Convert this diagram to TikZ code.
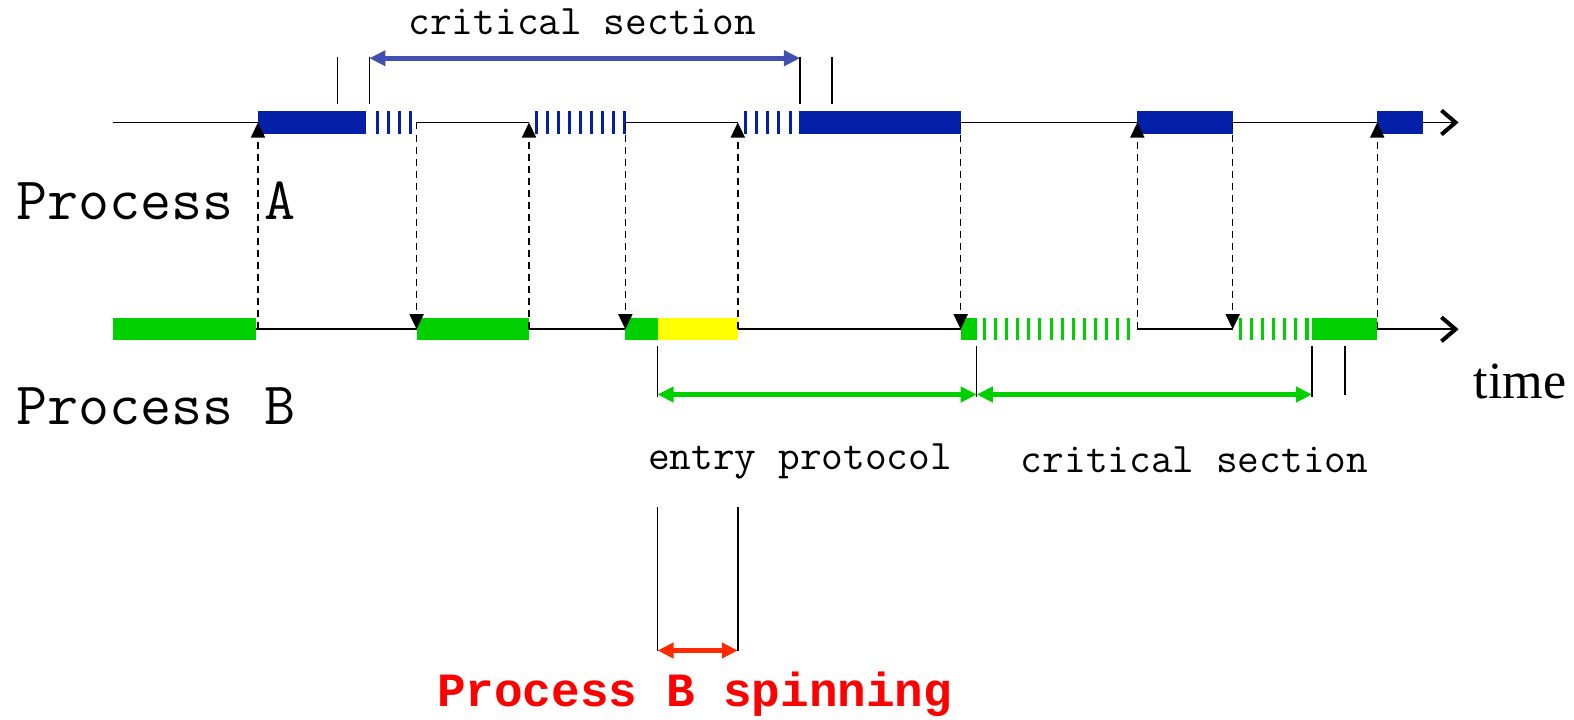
\documentclass[tikz,border=0pt]{standalone}
\usepackage{fontspec}
\setmainfont{Liberation Serif}
\newfontfamily\courbf{Liberation Mono}
\usepackage{tikz}
\usetikzlibrary{arrows.meta}
\definecolor{procA}{HTML}{0520A8}
\definecolor{procB}{HTML}{00D000}
\definecolor{spin}{HTML}{FFFF00}
\definecolor{dimA}{HTML}{4150AE}
\definecolor{alarm}{HTML}{FF2A00}
\begin{document}
\begin{tikzpicture}[x=1pt,y=-1pt]
    \tikzset{ax/.style={line width=1.8pt,-{Straight Barb[length=14pt,width=24pt,line width=4pt]}}, sig/.style={line width=1.5pt,dash pattern=on 7pt off 5pt,-{Triangle[length=15pt,width=14pt]}}, dim/.style={line width=5pt,{Triangle[length=16pt,width=15pt]}-{Triangle[length=16pt,width=15pt]}}, tk/.style={line width=1.5pt}, lbl/.style={font=\fontsize{42}{46}\selectfont\ttfamily}, big/.style={font=\fontsize{60}{64}\selectfont\ttfamily,inner sep=0pt,anchor=base west}}
    \useasboundingbox (0,0) rectangle (1568,717);
    \coordinate (a0) at (113,122); \coordinate (aE) at (1453,122);
    \coordinate (b0) at (113,328); \coordinate (bE) at (1453,328);
    \draw[ax] (a0)--(aE); \draw[ax] (b0)--(bE);
    % process A
    \foreach \l/\r in {257/365,796/957,1133/1228,1372/1418} \fill[procA] (\l,111) rectangle (\r,133);
    \foreach \l/\r in {365/415,527/623,735/796} \fill[white] (\l,111) rectangle (\r,133);
    \foreach \x in {376,387,...,410} \draw[procA,line width=3pt] (\x,111)--(\x,133);
    \foreach \x in {534,545,...,623} \draw[procA,line width=3pt] (\x,111)--(\x,133);
    \foreach \x in {743,754,...,790} \draw[procA,line width=3pt] (\x,111)--(\x,133);
    % process B
    \foreach \l/\r in {113/255,415/527,623/655,957/973,1307/1372} \fill[procB] (\l,317) rectangle (\r,339);
    \fill[spin] (655,317) rectangle (735,339);
    \foreach \l/\r in {973/1133,1228/1307} \fill[white] (\l,317) rectangle (\r,339);
    \foreach \x in {981,992,...,1134} \draw[procB,line width=3pt] (\x,317)--(\x,339);
    \foreach \x in {1236,1247,...,1304} \draw[procB,line width=3pt] (\x,317)--(\x,339);
    % hand-offs
    \foreach \i/\x in {1/257,2/415,3/527,4/623,5/735,6/957,7/1133,8/1228,9/1372} {\coordinate (a\i) at (\x,122); \coordinate (b\i) at (\x,328);}
    \foreach \i in {1,3,5,7,9} \draw[sig] (b\i)--(a\i);
    \foreach \i in {2,4,6,8} \draw[sig] (a\i)--(b\i);
    % intervals
    \foreach \x in {336,368,797,829} \draw[tk] (\x,57)--(\x,104);
    \coordinate (csA1) at (368,58); \coordinate (csA2) at (797,58);
    \draw[dim,dimA] (csA1)--(csA2);
    \node[lbl] (csA) at (580,22) {critical section};
    \foreach \x in {655,973,1307} \draw[tk] (\x,345)--(\x,395);
    \draw[tk] (1340,345)--(1340,393);
    \coordinate (ep1) at (655,393); \coordinate (ep2) at (973,393); \coordinate (csB2) at (1307,393);
    \draw[dim,procB] (ep1)--(ep2); \draw[dim,procB] (ep2)--(csB2);
    \node[lbl] (ep) at (797,460) {entry protocol};
    \node[lbl] (csB) at (1190,458) {critical section};
    \draw[tk] (655,505)--(655,649); \draw[tk] (735,505)--(735,649);
    \coordinate (sp1) at (655,648); \coordinate (sp2) at (735,648);
    \draw[dim,alarm] (sp1)--(sp2);
    \node[font=\fontsize{47.5}{50}\selectfont\courbf\bfseries,text=red] (spn) at (692,692) {Process B spinning};
    \node[big] (pA) at (16,219) {Process A};
    \node[big] (pB) at (16,423) {Process B};
    \node[font=\fontsize{52}{56}\selectfont,inner sep=0pt,anchor=base west] (tm) at (1468,397) {time};
  \end{tikzpicture}
\end{document}
